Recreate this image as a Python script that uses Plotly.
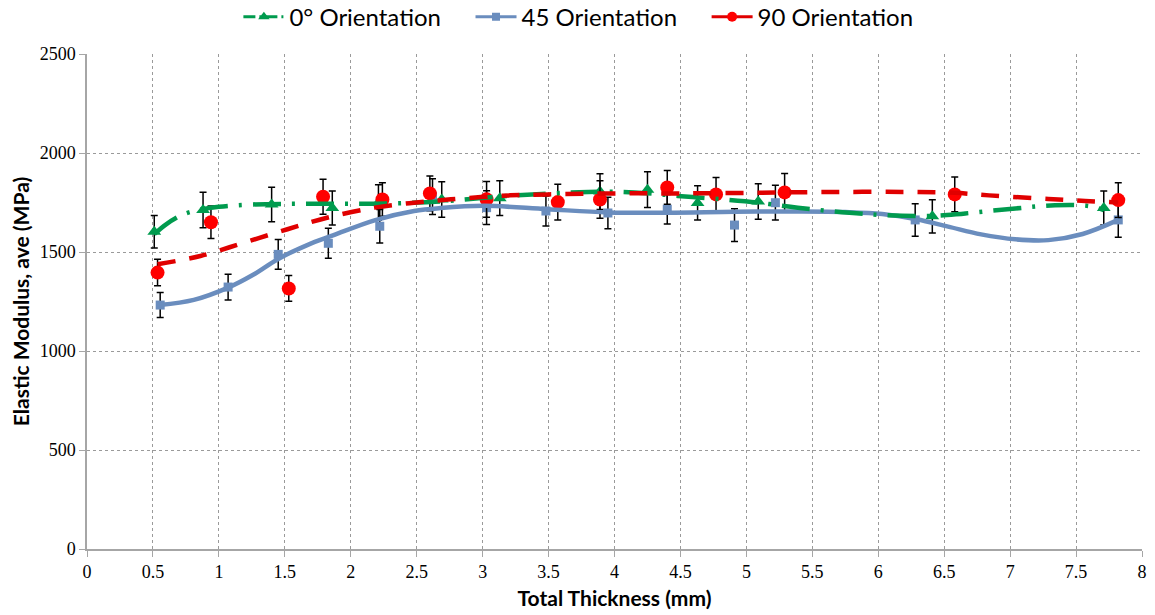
import plotly.graph_objects as go

# Measured elastic modulus (MPa) vs. total thickness (mm), mean +/- std
x_0deg = [0.51, 0.88, 1.40, 1.86, 2.21, 2.69, 3.13, 3.89, 4.25, 4.63, 5.09, 6.41, 7.71]
y_0deg = [1602, 1712, 1740, 1722, 1750, 1765, 1772, 1805, 1815, 1748, 1755, 1680, 1722]
e_0deg = [82, 90, 87, 86, 90, 90, 88, 90, 90, 86, 90, 84, 86]

x_45 = [0.555, 1.07, 1.45, 1.83, 2.22, 2.62, 3.03, 3.48, 3.95, 4.40, 4.91, 5.22, 6.28, 7.82]
y_45 = [1232, 1323, 1488, 1544, 1630, 1780, 1724, 1707, 1697, 1716, 1636, 1749, 1662, 1662]
e_45 = [63, 65, 75, 76, 85, 90, 85, 76, 80, 75, 83, 88, 82, 88]

x_90 = [0.535, 0.94, 1.53, 1.79, 2.24, 2.60, 3.03, 3.57, 3.89, 4.40, 4.77, 5.29, 6.58, 7.82]
y_90 = [1396, 1650, 1316, 1779, 1765, 1796, 1766, 1752, 1765, 1826, 1791, 1801, 1791, 1762]
e_90 = [67, 82, 65, 88, 85, 88, 90, 90, 95, 85, 85, 95, 88, 88]

# Trend curves through each series
tx_0deg = [0.51, 0.60, 0.73, 0.85, 1.00, 1.26, 1.72, 2.29, 2.68, 3.19, 3.80, 4.15, 4.48,
           4.81, 5.09, 5.39, 5.90, 6.41, 6.66, 7.04, 7.34, 7.60, 7.71]
ty_0deg = [1590, 1640, 1690, 1712, 1728, 1740, 1744, 1745, 1755, 1783, 1803, 1801, 1783,
           1766, 1749, 1724, 1692, 1682, 1695, 1720, 1736, 1732, 1712]

tx_45 = [0.55, 0.81, 1.07, 1.26, 1.45, 1.67, 1.87, 2.18, 2.48, 2.68, 3.01, 3.49, 3.95,
         4.40, 4.91, 5.42, 5.75, 6.03, 6.29, 6.53, 6.78, 7.04, 7.29, 7.55, 7.82]
ty_45 = [1232, 1258, 1320, 1385, 1465, 1535, 1585, 1660, 1707, 1722, 1733, 1716, 1700,
         1698, 1703, 1705, 1702, 1692, 1665, 1628, 1589, 1564, 1560, 1591, 1662]

tx_90 = [0.535, 0.86, 1.19, 1.52, 1.82, 2.18, 2.48, 2.76, 3.21, 3.50, 4.02, 4.50, 5.06,
         5.57, 6.28, 6.58, 6.84, 7.29, 7.57, 7.82]
ty_90 = [1438, 1480, 1547, 1615, 1673, 1724, 1749, 1766, 1786, 1791, 1796, 1796, 1799,
         1803, 1803, 1799, 1786, 1768, 1758, 1750]

x_ticks = [0, 0.5, 1, 1.5, 2, 2.5, 3, 3.5, 4, 4.5, 5, 5.5, 6, 6.5, 7, 7.5, 8]
y_ticks = [0, 500, 1000, 1500, 2000, 2500]

series_names = ["0° Orientation", "45 Orientation", "90 Orientation"]

GREEN = "#009B4E"
BLUE = "#6A8DBE"
RED = "#FF0000"
RED_LINE = "#E00000"
GREEN_DASH = "28px,11px,3px,11px"
RED_DASH = "18px,14px"
PAD = "\u00a0" * 4  # spacing between legend entries

fig = go.Figure()

err_style = dict(type="data", color="black", thickness=1.5, width=3.5)

# Data points with error bars
fig.add_trace(go.Scatter(
    x=x_0deg, y=y_0deg, mode="markers", showlegend=False,
    marker=dict(symbol="triangle-up", size=12, color=GREEN),
    error_y=dict(array=e_0deg, **err_style)))
fig.add_trace(go.Scatter(
    x=x_45, y=y_45, mode="markers", showlegend=False,
    marker=dict(symbol="square", size=9, color=BLUE),
    error_y=dict(array=e_45, **err_style)))
fig.add_trace(go.Scatter(
    x=x_90, y=y_90, mode="markers", showlegend=False,
    marker=dict(symbol="circle", size=14, color=RED),
    error_y=dict(array=e_90, **err_style)))

# Trend curves
fig.add_trace(go.Scatter(
    x=tx_45, y=ty_45, mode="lines", showlegend=False, hoverinfo="skip",
    line=dict(color=BLUE, width=4.5, shape="spline")))
fig.add_trace(go.Scatter(
    x=tx_0deg, y=ty_0deg, mode="lines", showlegend=False, hoverinfo="skip",
    line=dict(color=GREEN, width=4.5, shape="spline", dash=GREEN_DASH)))
fig.add_trace(go.Scatter(
    x=tx_90, y=ty_90, mode="lines", showlegend=False, hoverinfo="skip",
    line=dict(color=RED_LINE, width=4.5, shape="spline", dash=RED_DASH)))

# Legend entries (line + marker)
fig.add_trace(go.Scatter(
    x=[None], y=[None], mode="lines+markers", name=series_names[0] + PAD,
    marker=dict(symbol="triangle-up", size=10, color=GREEN),
    line=dict(color=GREEN, width=3, dash="12px,4px,2px,4px")))
fig.add_trace(go.Scatter(
    x=[None], y=[None], mode="lines+markers", name=series_names[1] + PAD,
    marker=dict(symbol="square", size=8, color=BLUE),
    line=dict(color=BLUE, width=3)))
fig.add_trace(go.Scatter(
    x=[None], y=[None], mode="lines+markers", name=series_names[2],
    marker=dict(symbol="circle", size=10, color=RED),
    line=dict(color=RED_LINE, width=3)))

SERIF = "Liberation Serif"

axis_common = dict(
    showline=True, linecolor="#A6A6A6", linewidth=1.5,
    showgrid=True, gridcolor="#9A9A9A", gridwidth=1, griddash="dot",
    ticks="outside", ticklen=6, tickcolor="#A6A6A6", tickwidth=1,
    tickfont=dict(family=SERIF, size=18, color="black"),
    zeroline=False, mirror=False, automargin=False,
)

fig.update_layout(
    width=1155, height=615,
    margin=dict(l=87, r=13, t=54, b=66, autoexpand=False),
    paper_bgcolor="white", plot_bgcolor="white",
    font=dict(family=SERIF),
    xaxis=dict(
        range=[0, 8], tickvals=x_ticks, ticktext=[f"{v:g}" for v in x_ticks],
        title=dict(text="<b>Total Thickness (mm)</b>", standoff=10,
                   font=dict(family="Lato", size=21, color="black")),
        **axis_common),
    yaxis=dict(
        range=[0, 2500], tickvals=y_ticks, ticktext=[str(v) for v in y_ticks],
        title=dict(text="<b>Elastic Modulus, ave (MPa)</b>", standoff=4,
                   font=dict(family="Lato", size=21, color="black")),
        **axis_common),
    legend=dict(
        orientation="h", x=0.1435, xanchor="left", y=1.12, yanchor="top",
        font=dict(family="Lato", size=24, color="black"),
        itemwidth=41, bgcolor="rgba(0,0,0,0)"),
    showlegend=True,
)

fig.write_html("out.html")
